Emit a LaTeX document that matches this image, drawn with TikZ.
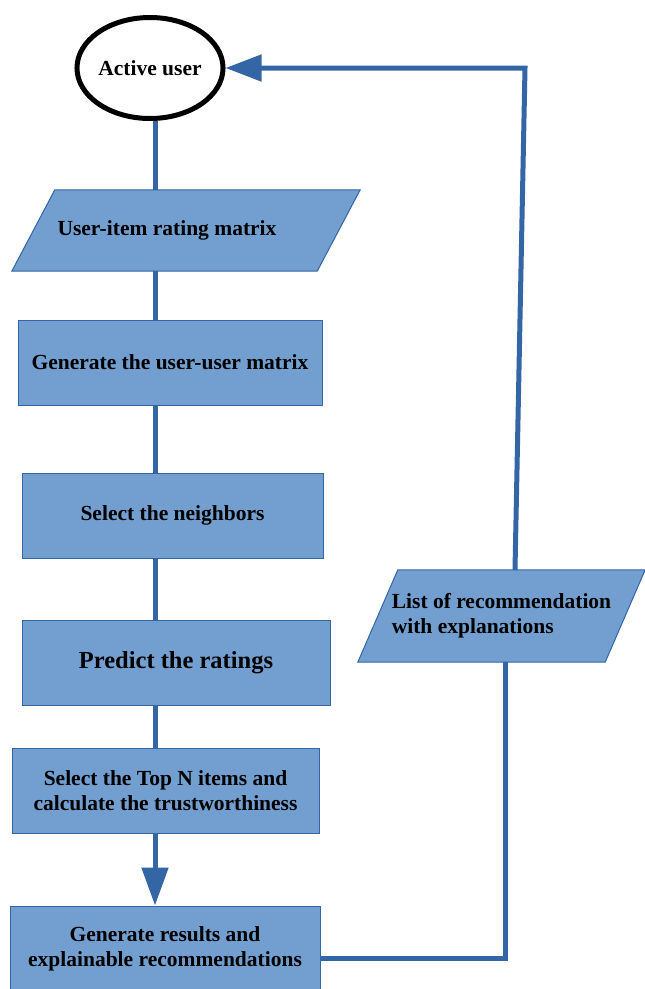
\documentclass[tikz,border=0pt]{standalone}
\usepackage{fontspec}
\setmainfont{Liberation Serif}
\usetikzlibrary{shapes.geometric,arrows.meta,backgrounds}
\definecolor{boxfill}{HTML}{729FCF}
\definecolor{boxline}{HTML}{3465A4}
\tikzset{
	stepbox/.style={rectangle,draw=boxline,fill=boxfill,line width=1pt,minimum height=85pt,inner sep=2pt,align=center,font=\fontsize{21.5}{25}\selectfont\bfseries},
	databox/.style={rectangle,inner sep=2pt,align=left,font=\fontsize{21.5}{25}\selectfont\bfseries},
	dataframe/.style={draw=boxline,fill=boxfill,line width=1pt},
	flowline/.style={draw=boxline,line width=5pt},
}
\begin{document}
\begin{tikzpicture}[x=1pt,y=-1pt]
	\useasboundingbox (0,0) rectangle (645,989);
	% steps, top to bottom
	\node[ellipse,draw=black,fill=white,line width=5pt,inner sep=0pt,minimum width=146pt,minimum height=101pt,font=\fontsize{21.5}{25}\selectfont\bfseries] (active) at (150,68) {Active user};
	\node[databox,minimum width=305pt,minimum height=81pt] (rating) at (186,230.5) {\hspace*{-38pt}User-item rating matrix};
	\node[stepbox,minimum width=304pt] (useruser) at (170,362.5) {Generate the user-user matrix};
	\node[stepbox,minimum width=301pt] (neigh) at (172.5,515.5) {Select the neighbors};
	\node[stepbox,minimum width=308pt,font=\fontsize{24.5}{28}\selectfont\bfseries] (predict) at (176,662.5) {Predict the ratings};
	\node[stepbox,minimum width=307pt] (topn) at (165.5,790.5) {Select the Top N items and\\calculate the trustworthiness};
	\node[stepbox,minimum width=310pt] (res) at (165,948.5) {Generate results and\\explainable recommendations};
	\node[databox,minimum width=247pt,minimum height=92pt] (list) at (501.5,616) {List of recommendation\\with explanations};
	% slanted data boxes
	\begin{scope}[on background layer]
		\foreach \n/\s in {rating/21.5,list/20}
		\draw[dataframe] ([xshift=\s pt]\n.north west)--([xshift=\s pt]\n.north east)--([xshift=-\s pt]\n.south east)--([xshift=-\s pt]\n.south west)--cycle;
	\end{scope}
	% main line
	\coordinate (spine) at (155,0);
	\coordinate (corner) at (525,68);
	\foreach \a/\b in {active/rating,rating/useruser,useruser/neigh,neigh/predict,predict/topn}
	\draw[flowline] (\a.south -| spine)--(\b.north -| spine);
	\draw[flowline,-{Triangle[width=26pt,length=38pt]}] (topn.south -| spine)--(res.north -| spine);
	% feedback
	\draw[flowline] ([yshift=-9.5pt]res.east) -| ([xshift=3.5pt]list.south);
	\draw[flowline,-{Triangle[width=26pt,length=36pt]}] ([xshift=13.5pt]list.north)--(corner)--(active.east);
\end{tikzpicture}
\end{document}
